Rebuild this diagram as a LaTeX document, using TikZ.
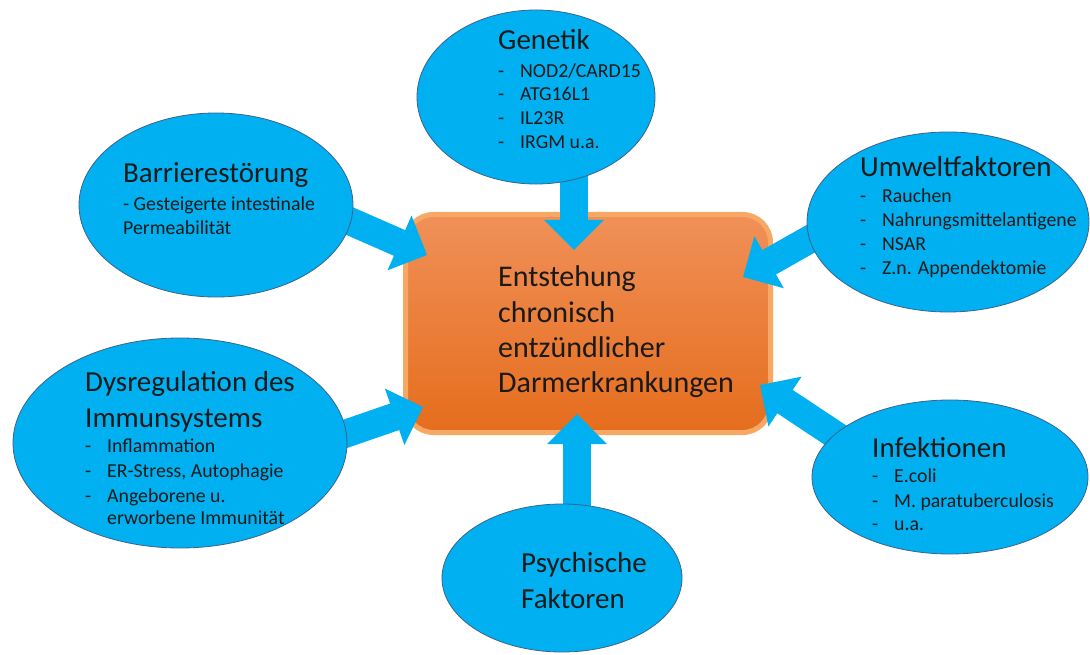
\documentclass[tikz,border=0pt]{standalone}
\usepackage{fontspec}
\setmainfont{Carlito}
\usetikzlibrary{arrows.meta,shapes.geometric}
\definecolor{cblue}{HTML}{00B0F0}
\definecolor{cedge}{HTML}{3B6390}
\definecolor{otop}{HTML}{F09058}
\definecolor{obot}{HTML}{E56D1D}
\definecolor{oedge}{HTML}{F7A864}
\definecolor{txt}{HTML}{1A1A1A}
\begin{document}
\begin{tikzpicture}[x=1pt,y=-1pt,
  ell/.style={ellipse, fill=cblue, draw=cedge, line width=0.8pt, inner sep=0pt},
  barrow/.style={draw=cblue, line width=28pt, -{Triangle[length=30pt,width=58pt]}},
  ttl/.style={anchor=base west, inner sep=0pt, font=\fontsize{29}{34}\selectfont, text=txt},
  bul/.style={anchor=base west, inner sep=0pt, font=\fontsize{19.8}{23}\selectfont, text=txt},
  ctr/.style={anchor=base west, inner sep=0pt, font=\fontsize{30}{35}\selectfont, text=txt}]
\newcommand{\bl}[4]{\node[bul] (#1) at (#2,#3) {\makebox[22pt][l]{-}#4};}
\useasboundingbox (0,0) rectangle (1090,655);
\fill[white] (0,0) rectangle (1090,655);

% central box
\node[rounded corners=28pt, minimum width=365pt, minimum height=218pt,
      draw=oedge, line width=5pt, top color=otop, bottom color=obot] (main) at (588,323.5) {};

% arrow coordinates
\coordinate (sGen) at (574,150);  \coordinate (tGen) at (574,250);
\coordinate (sPsy) at (577,540);  \coordinate (tPsy) at (577,414);
\coordinate (sBar) at (290,195);  \coordinate (tBar) at (427,255);
\coordinate (sUmw) at (874,203);  \coordinate (tUmw) at (743,277);
\coordinate (sDys) at (281,456);  \coordinate (tDys) at (423,407);
\coordinate (sInf) at (885,468);  \coordinate (tInf) at (760,385);

\draw[barrow] (sGen) -- (tGen);
\draw[barrow] (sPsy) -- (tPsy);
\draw[barrow] (sBar) -- (tBar);
\draw[barrow] (sUmw) -- (tUmw);
\draw[barrow] (sDys) -- (tDys);
\draw[barrow] (sInf) -- (tInf);

% ellipses
\node[ell, minimum width=238pt, minimum height=174pt] (gen) at (536,97) {};
\node[ell, minimum width=274pt, minimum height=184pt] (bar) at (216,205) {};
\node[ell, minimum width=282pt, minimum height=180pt] (umw) at (948,222) {};
\node[ell, minimum width=334pt, minimum height=210pt] (dys) at (180,443) {};
\node[ell, minimum width=276pt, minimum height=154pt] (inf) at (950,477) {};
\node[ell, minimum width=240pt, minimum height=148pt] (psy) at (562,578) {};

% central text
\node[ctr] (c1) at (498,287) {Entstehung};
\node[ctr] (c2) at (498,322) {chronisch};
\node[ctr] (c3) at (498,357) {entzündlicher};
\node[ctr] (c4) at (498,392) {Darmerkrankungen};

% Genetik
\node[ttl] (genT) at (498,50) {Genetik};
\bl{g1}{498}{78}{NOD2/CARD15}
\bl{g2}{498}{101}{ATG16L1}
\bl{g3}{498}{125}{IL23R}
\bl{g4}{498}{149}{IRGM u.a.}

% Barrierestoerung
\node[ttl] (barT) at (123,183) {Barrierestörung};
\node[bul] (b1) at (123,211) {- Gesteigerte intestinale};
\node[bul] (b2) at (123,235) {Permeabilität};

% Umweltfaktoren
\node[ttl] (umwT) at (860,177) {Umweltfaktoren};
\bl{u1}{860}{203}{Rauchen}
\bl{u2}{860}{227}{Nahrungsmittelantigene}
\bl{u3}{860}{251}{NSAR}
\bl{u4}{860}{275}{Z.n. Appendektomie}

% Dysregulation
\node[ttl] (dysT1) at (85,391) {Dysregulation des};
\node[ttl] (dysT2) at (85,427) {Immunsystems};
\bl{d1}{85}{452}{Inflammation}
\bl{d2}{85}{477}{ER-Stress, Autophagie}
\bl{d3}{85}{502}{Angeborene u.}
\node[bul] (d4) at (107,524) {erworbene Immunität};

% Infektionen
\node[ttl] (infT) at (872,457) {Infektionen};
\bl{i1}{872}{482}{E.coli}
\bl{i2}{872}{507}{M. paratuberculosis}
\bl{i3}{872}{530}{u.a.}

% Psychische Faktoren
\node[ttl] (psyT1) at (521,572) {Psychische};
\node[ttl] (psyT2) at (521,608) {Faktoren};
\end{tikzpicture}
\end{document}
